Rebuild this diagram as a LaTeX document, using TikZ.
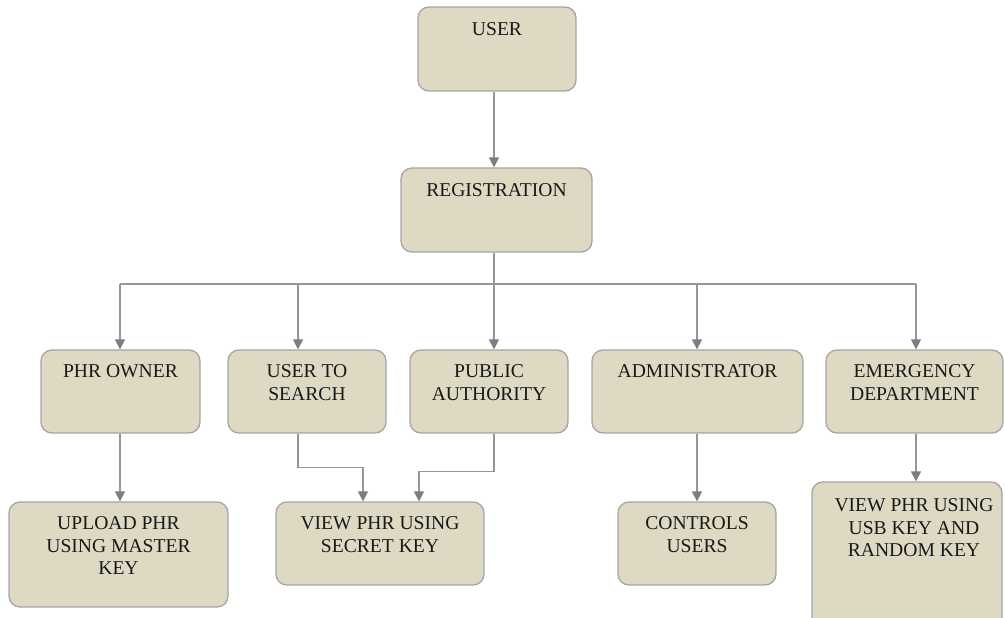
\documentclass[tikz,border=0pt]{standalone}
\usepackage{fontspec}
\setmainfont{Liberation Serif}
\usetikzlibrary{positioning,arrows.meta}

\definecolor{boxfill}{RGB}{221,217,195}
\definecolor{boxline}{RGB}{165,165,165}
\definecolor{wiregray}{RGB}{150,150,150}
\definecolor{tipgray}{RGB}{125,125,125}
\definecolor{ink}{RGB}{25,25,25}

\tikzset{
  box/.style={draw=boxline, fill=boxfill, line width=1.3pt, rounded corners=11pt, inner sep=0pt},
  lbl/.style={align=center, text=ink, inner sep=0pt, font=\fontsize{19.6}{22.5}\selectfont},
  wire/.style={draw=wiregray, line width=1.4pt},
  arr/.style={wire, -{Triangle[length=10pt,width=10pt,color=tipgray]}},
}

\begin{document}
\begin{tikzpicture}[x=1pt, y=-1pt]
\useasboundingbox (0,0) rectangle (1005,618);

% top
\node[box, minimum width=158pt, minimum height=84pt] (user) at (497,49) {};
\node[lbl, below=16pt of user.north] (userT) {USER};
\node[box, minimum width=191pt, minimum height=84pt] (reg) at (496.5,210) {};
\node[lbl, below=16pt of reg.north] (regT) {REGISTRATION};

% second row
\node[box, minimum width=159pt, minimum height=83pt] (phr) at (120.5,391.5) {};
\node[lbl, below=15pt of phr.north] (phrT) {PHR OWNER};
\node[box, minimum width=158pt, minimum height=83pt] (search) at (307,391.5) {};
\node[lbl, below=15pt of search.north] (searchT) {USER TO\\SEARCH};
\node[box, minimum width=158pt, minimum height=83pt] (pub) at (489,391.5) {};
\node[lbl, below=15pt of pub.north] (pubT) {PUBLIC\\AUTHORITY};
\node[box, minimum width=211pt, minimum height=83pt] (admin) at (697.5,391.5) {};
\node[lbl, below=15pt of admin.north] (adminT) {ADMINISTRATOR};
\node[box, minimum width=177pt, minimum height=83pt] (emer) at (914.5,391.5) {};
\node[lbl, below=15pt of emer.north] (emerT) {EMERGENCY\\DEPARTMENT};

% third row
\node[box, minimum width=219pt, minimum height=105pt] (upload) at (118.5,554.5) {};
\node[lbl, below=15pt of upload.north] (uploadT) {UPLOAD PHR\\USING MASTER\\KEY};
\node[box, minimum width=208pt, minimum height=83pt] (secret) at (380,543.5) {};
\node[lbl, below=15pt of secret.north] (secretT) {VIEW PHR USING\\SECRET KEY};
\node[box, minimum width=158pt, minimum height=83pt] (controls) at (697,543.5) {};
\node[lbl, below=15pt of controls.north] (controlsT) {CONTROLS\\USERS};
\node[box, minimum width=190pt, minimum height=170pt] (usb) at (907,567) {};
\node[lbl, below=17pt of usb.north, xshift=7pt] (usbT) {VIEW PHR USING\\USB KEY AND\\RANDOM KEY};

% bus and drops
\foreach \n/\x in {phr/120, search/298, pub/494, admin/697, emer/916}
    \coordinate (d\n) at (\x,284);

\draw[arr] (user.south -| dpub) -- (reg.north -| dpub);
\draw[wire] (reg.south -| dpub) -- (dpub);
\draw[wire] (dphr) -- (demer);

\foreach \n in {phr, search, pub, admin, emer}
    \draw[arr] (d\n) -- (d\n |- \n.north);

% lower connectors
\draw[arr] (dphr |- phr.south) -- (dphr |- upload.north);
\draw[arr] (dsearch |- search.south) -- ++(0,34) -| ([xshift=-17pt]secret.north);
\draw[arr] (dpub |- pub.south) -- ++(0,38) -| ([xshift=39pt]secret.north);
\draw[arr] (dadmin |- admin.south) -- (dadmin |- controls.north);
\draw[arr] (demer |- emer.south) -- (demer |- usb.north);

\end{tikzpicture}
\end{document}
